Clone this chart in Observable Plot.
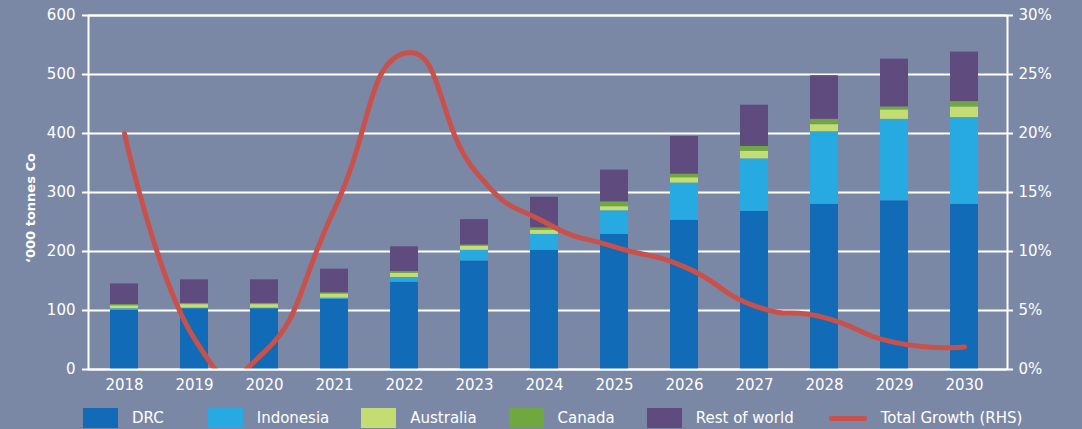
<!DOCTYPE html>
<html>
<head>
<meta charset="utf-8">
<script src="https://cdn.jsdelivr.net/npm/d3@7"></script>
<script src="https://cdn.jsdelivr.net/npm/@observablehq/plot@0.6"></script>
<style>
  html, body { margin: 0; padding: 0; background: #7a88a5; width: 1082px; height: 429px; overflow: hidden; }
  body { font-family: "DejaVu Sans", sans-serif; color: #fff; position: relative; }
  #chart svg { display: block; }
  #ylabel { position: absolute; left: 30px; top: 208px; transform: translate(-50%, -50%) rotate(-90deg); font-weight: bold; font-size: 13px; white-space: nowrap; }
  #legend { display: flex; align-items: flex-start; height: 31px; box-sizing: border-box; padding-top: 10px; padding-left: 83px; gap: 32px; font-size: 15px; }
  #legend .item:first-child { margin-right: 12px; }
  #legend .item:nth-child(5) { margin-right: 3px; }
  .item { display: flex; align-items: center; gap: 14px; height: 20px; }
  .sw { width: 35px; height: 20px; }
  .ln { width: 38px; height: 5px; border-radius: 2px; }
</style>
</head>
<body>
<div id="chart"></div>
<div id="ylabel"></div>
<div id="legend"></div>
<script>
const years = ["2018","2019","2020","2021","2022","2023","2024","2025","2026","2027","2028","2029","2030"];
const drc       = [100, 103, 103, 119, 148, 184, 202, 229, 253, 268, 280, 286, 280];
const indonesia = [  3,   1,   1,   2,   8,  18,  27,  40,  63,  89, 123, 138, 147];
const australia = [  5,   6,   6,   7,   7,   7,   7,   7,   9,  13,  12,  16,  18];
const canada    = [  2,   2,   2,   2,   3,   2,   4,   8,   6,   8,   9,   5,   9];
const rest      = [ 35,  40,  40,  40,  42,  43,  52,  54,  64,  70,  74,  81,  84];
const growth    = [20, 2.6, 1.5, 13.6, 26.8, 16.9, 12.5, 10.4, 8.7, 5.4, 4.4, 2.3, 1.9]; // % (RHS)

const seriesNames = ["DRC", "Indonesia", "Australia", "Canada", "Rest of world"];
const seriesColors = ["#116bb6", "#27aae2", "#c3dd73", "#6fa83f", "#604b7f"];
const lineName = "Total Growth (RHS)";
const lineColor = "#c8524b";
const yLabel = "‘000 tonnes Co";
const leftTicks = [0, 100, 200, 300, 400, 500, 600];
const rightTicks = [0, 5, 10, 15, 20, 25, 30];

const seriesValues = [drc, indonesia, australia, canada, rest];
const stackData = [];
seriesNames.forEach((s, i) => years.forEach((y, j) => stackData.push({year: y, series: s, value: seriesValues[i][j]})));
const k = 600 / 30; // right axis scale factor
const lineData = years.map((y, j) => ({year: y, growth: growth[j]}));

const chart = Plot.plot({
  width: 1082, height: 398,
  marginTop: 15, marginBottom: 29, marginLeft: 88, marginRight: 75,
  style: {background: "transparent", color: "#fff", fontFamily: "DejaVu Sans, sans-serif", fontSize: "15px", overflow: "visible"},
  x: {domain: years, range: [68, 1020], padding: 0.6, round: false, label: null},
  y: {domain: [0, 600], label: null},
  color: {domain: seriesNames, range: seriesColors},
  marks: [
    Plot.ruleY(leftTicks, {stroke: "#fff", strokeWidth: 2}),
    Plot.barY(stackData, {x: "year", y: "value", fill: "series"}),
    Plot.line(lineData, {x: "year", y: d => d.growth * k, stroke: lineColor, strokeWidth: 5, curve: "cardinal", tension: -0.6, clip: true}),
    Plot.frame({stroke: "#fff", strokeWidth: 2}),
    Plot.axisX({tickSize: 0, tickPadding: 10, label: null}),
    Plot.axisY({anchor: "left", ticks: leftTicks, tickSize: 6, tickPadding: 7, strokeWidth: 2, label: null}),
    Plot.axisY({anchor: "right", ticks: rightTicks.map(v => v * k), tickFormat: d => (d / k) + "%", tickSize: 5, tickPadding: 6, strokeWidth: 2, label: null})
  ]
});
document.getElementById("chart").append(chart);
document.getElementById("ylabel").textContent = yLabel;

const legend = document.getElementById("legend");
seriesNames.forEach((s, i) => {
  const it = document.createElement("div"); it.className = "item";
  it.innerHTML = `<div class="sw" style="background:${seriesColors[i]}"></div><span>${s}</span>`;
  legend.append(it);
});
const it = document.createElement("div"); it.className = "item";
it.innerHTML = `<div class="ln" style="background:${lineColor}"></div><span>${lineName}</span>`;
legend.append(it);
</script>
</body>
</html>
